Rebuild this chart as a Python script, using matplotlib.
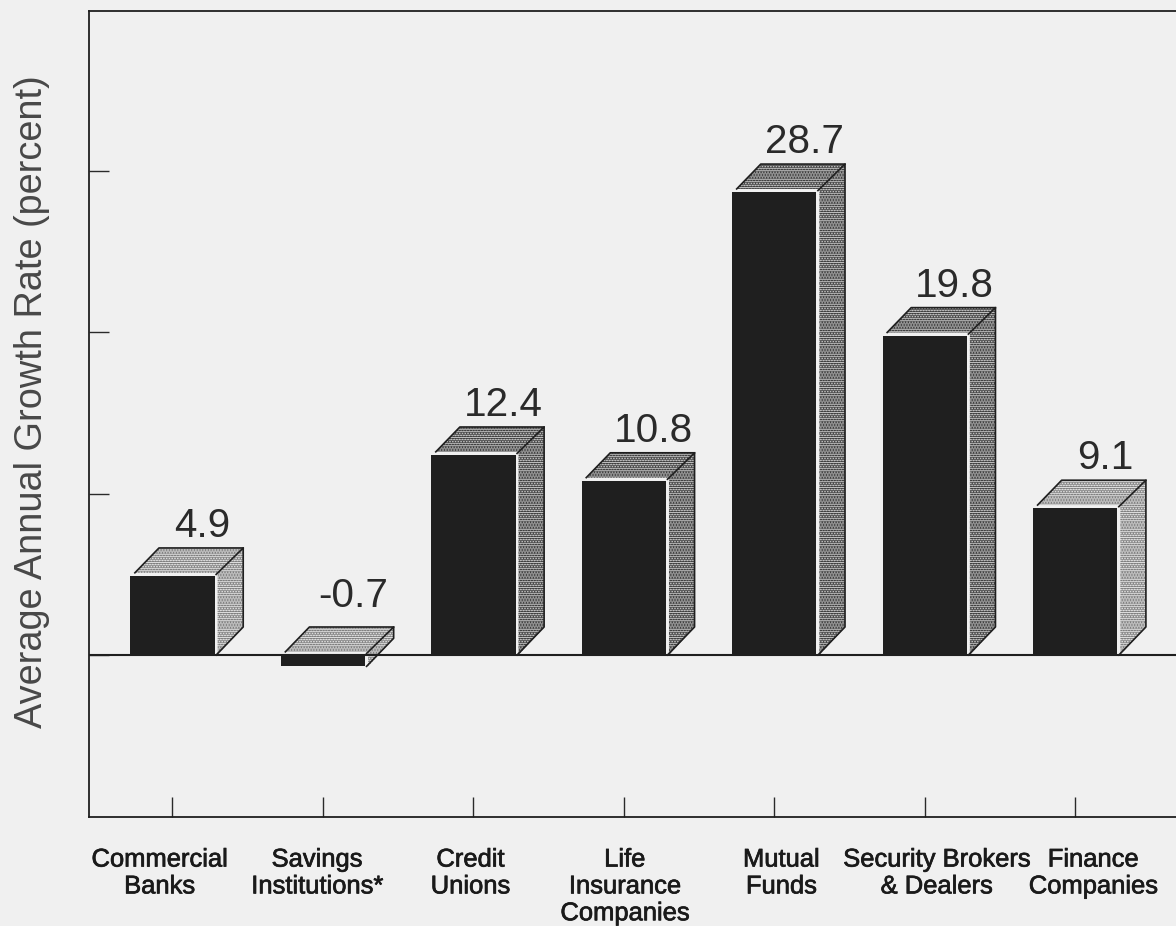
import matplotlib
matplotlib.use('Agg')
import matplotlib.pyplot as plt
import matplotlib.patheffects as pe

plt.rcParams['font.family'] = ['Liberation Sans', 'DejaVu Sans']
plt.rcParams['hatch.linewidth'] = 0.55

# datos
categorias = ['Commercial\nBanks', 'Savings\nInstitutions*', 'Credit\nUnions',
              'Life\nInsurance\nCompanies', 'Mutual\nFunds',
              'Security Brokers\n& Dealers', 'Finance\nCompanies']
valores = [4.9, -0.7, 12.4, 10.8, 28.7, 19.8, 9.1]
y_ticks = [0, 10, 20, 30]

FONDO = '#f0f0f0'
NEGRO = '#1f1f1f'

# desplazamiento de cada etiqueta respecto de su marca (pixeles)
offset_label = [-13, -6, -3, 1, 7, 12, 18]

W, H = 1176, 926
fig = plt.figure(figsize=(W / 100, H / 100), dpi=100, facecolor=FONDO)
ax = fig.add_axes([89 / W, 1 - 817 / H, (W - 89) / W, (817 - 11) / H], facecolor=FONDO)

ax.set_xlim(-0.555, 6.67)
ax.set_ylim(-10.04, 39.93)

ancho = 0.56
prof_x = 0.19   # profundidad del efecto 3D
prof_y = 1.74
gap = 0.2


def cara(px, py, gris, trama):
    # fondo con trama fina, como la impresion original
    ax.fill(px, py, facecolor=gris, edgecolor=trama, hatch='--------......', linewidth=0, zorder=2)


for i, v in enumerate(valores):
    x0 = i - ancho / 2
    x1 = i + ancho / 2
    techo = max(v, 0)
    piso = min(v, 0)
    alto = v > 10
    gris = '#bcbcbc' if alto else '#dcdcdc'
    trama = '#404040' if alto else '#808080'

    ax.bar(i, v, width=ancho, color=NEGRO, zorder=3)

    # tapa superior
    px = [x0 + 0.03, x1 + 0.015, x1 + prof_x, x0 + prof_x]
    py = [techo + gap, techo + gap, techo + prof_y, techo + prof_y]
    cara(px, py, gris, trama)
    ax.plot([x0 + 0.03, x0 + prof_x, x1 + prof_x], [techo + gap, techo + prof_y, techo + prof_y],
            color=NEGRO, lw=1.2, zorder=4)

    # lateral
    px = [x1 + 0.02, x1 + prof_x, x1 + prof_x, x1 + 0.02]
    py = [techo + gap, techo + prof_y, piso + prof_y, piso]
    cara(px, py, gris, trama)
    ax.plot([x1 + 0.01, x1 + prof_x, x1 + prof_x, x1 + 0.01],
            [techo + 0.1, techo + prof_y, piso + prof_y, piso],
            color=NEGRO, lw=1.2, zorder=4)

    extra = 9 if v < 0 else 0
    ax.annotate(str(v), xy=(i, techo + prof_y), xytext=(21.5, 2 + extra * 0.72),
                textcoords='offset points', ha='center', va='bottom',
                fontsize=29.2, color='#2a2a2a')

    etiqueta = ax.annotate(categorias[i], xy=(i, 0), xycoords=ax.get_xaxis_transform(),
                           xytext=(offset_label[i] * 0.72, -22), textcoords='offset points',
                           ha='center', va='top', fontsize=18.4, color='#1a1a1a',
                           linespacing=1.15)
    # la impresion original engorda un poco el texto
    etiqueta.set_path_effects([pe.withStroke(linewidth=0.5, foreground='#1a1a1a')])

ax.axhline(0, color=NEGRO, lw=1.5, zorder=5)

ax.set_xticks(range(len(categorias)))
ax.set_xticklabels([])
ax.set_yticks(y_ticks)
ax.set_yticklabels([])
ax.tick_params(direction='in', length=14.5, width=1.0, color='#2a2a2a')

for lado in ['left', 'bottom', 'top']:
    ax.spines[lado].set_linewidth(1.3)
    ax.spines[lado].set_color(NEGRO)
ax.spines['right'].set_visible(False)

fig.text(32 / W, 1 - 402 / H, 'Average Annual Growth Rate (percent)', rotation=90,
         ha='center', va='center', fontsize=27.3, color='#484848')

fig.savefig('out.png', dpi=100, facecolor=FONDO)
print("terminamos")
